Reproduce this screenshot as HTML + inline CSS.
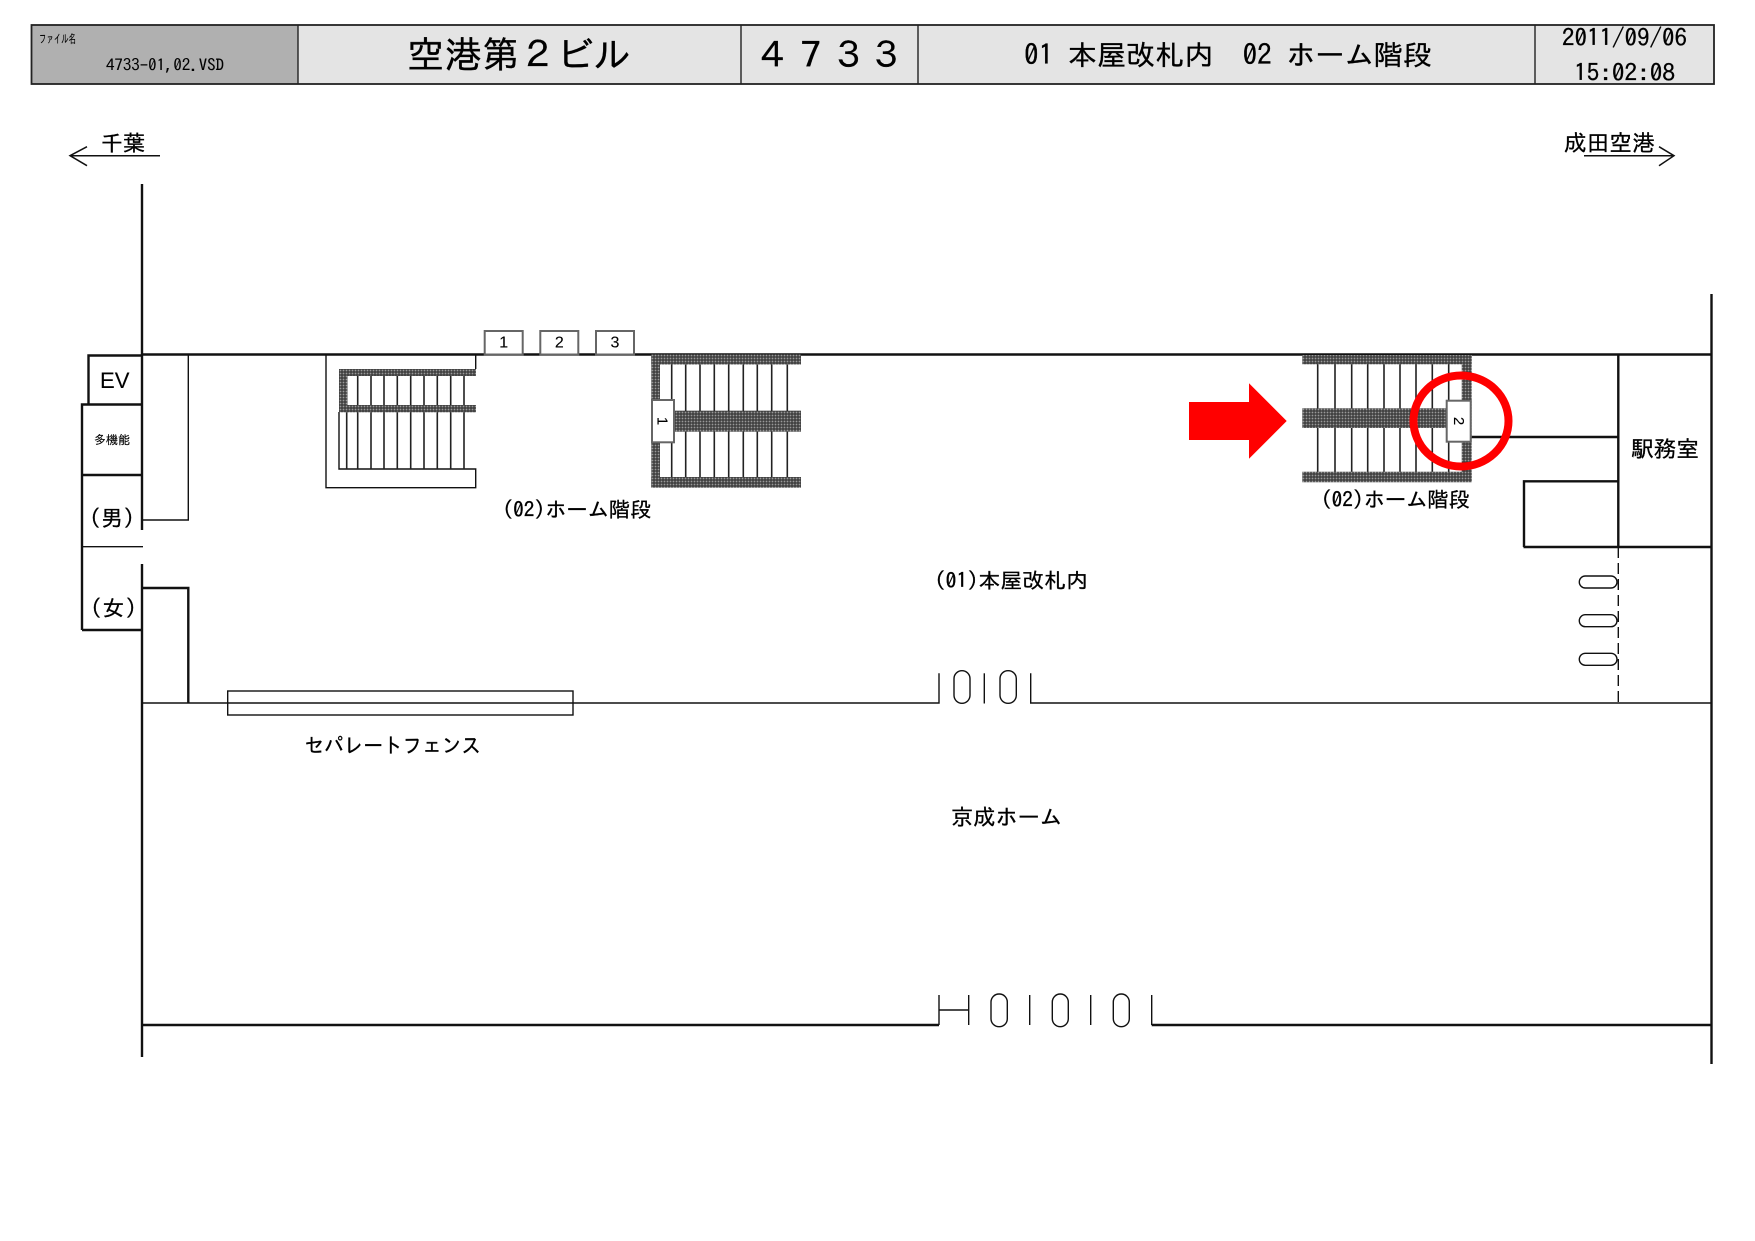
<!DOCTYPE html>
<html lang="ja"><head><meta charset="utf-8"><title>空港第2ビル 4733</title>
<style>
html,body{margin:0;padding:0;background:#fff;width:1755px;height:1241px;overflow:hidden}
svg{display:block}
text{font-family:"IPAGothic","Noto Sans CJK JP","Liberation Sans",sans-serif;fill:#000;stroke:#000;stroke-width:.3}
.l{stroke:#111;fill:none}
.h{fill:url(#hatch)}
.t{stroke:#222;stroke-width:1.6}
.b{fill:#fff;stroke:#666;stroke-width:2}
.n{font-family:"Liberation Sans",sans-serif;font-size:16px;text-anchor:middle;stroke-width:.1}
</style></head><body>
<svg width="1755" height="1241" viewBox="0 0 1755 1241" xmlns="http://www.w3.org/2000/svg">
<defs>
<pattern id="hatch" width="3" height="3" patternUnits="userSpaceOnUse">
<rect width="3" height="3" fill="#333"/><rect x="0.6" y="0.6" width="1.8" height="1.8" fill="#999"/>
</pattern>
</defs>
<rect width="1755" height="1241" fill="#fff"/>

<!-- header -->
<rect x="31.5" y="25" width="266.5" height="59" fill="#b0b0b0"/>
<rect x="298" y="25" width="1416" height="59" fill="#e4e4e4"/>
<rect x="31.5" y="25" width="1682.5" height="59" fill="none" stroke="#222" stroke-width="1.8"/>
<g stroke="#222" stroke-width="1.4">
<line x1="298" y1="25" x2="298" y2="84"/><line x1="741" y1="25" x2="741" y2="84"/><line x1="918" y1="25" x2="918" y2="84"/><line x1="1535" y1="25" x2="1535" y2="84"/>
</g>
<text x="39" y="43" font-size="12" textLength="37" lengthAdjust="spacingAndGlyphs" style="stroke-width:.1">ファイル名</text>
<text x="106" y="71" font-size="16" textLength="118" lengthAdjust="spacingAndGlyphs" style="stroke-width:.1">4733-01,02.VSD</text>
<text x="407" y="68" font-size="37" textLength="224" lengthAdjust="spacingAndGlyphs">空港第&#xFF12;ビル</text>
<text x="755.5" y="68" font-size="36" textLength="149" lengthAdjust="spacing">&#xFF14;&#xFF17;&#xFF13;&#xFF13;</text>
<text x="1024" y="65" font-size="28" textLength="408" lengthAdjust="spacingAndGlyphs" xml:space="preserve">01 本屋改札内  02 ホーム階段</text>
<text x="1562" y="46" font-size="24" textLength="125" lengthAdjust="spacingAndGlyphs">2011/09/06</text>
<text x="1574" y="81" font-size="24" textLength="101" lengthAdjust="spacingAndGlyphs">15:02:08</text>

<!-- direction arrows -->
<text x="101" y="151" font-size="22">千葉</text>
<path class="l" stroke-width="1.5" d="M160 155.7H70M87 146.7L70 155.7L87 165.7"/>
<text x="1564" y="151" font-size="22.7">成田空港</text>
<path class="l" stroke-width="1.5" d="M1584 155.7H1674M1659 146.7L1674 155.7L1659 165.7"/>

<!-- walls -->
<g class="l" stroke-width="2.4">
<path d="M142 184V530M142 564V1057"/>
<path d="M142 354.5H1712"/>
<path d="M1711.5 294V1064"/>
<path d="M88.5 404.5V355.5H142"/>
<path d="M82 630V404.5H142M82 475H142M82 630H142"/>
<path d="M142 588H188.3V703"/>
<path d="M1618.3 354.5V547M1524 547V481.3H1618.3M1523.5 547H1711.5"/>
<path d="M1471 437H1618.3"/>
</g>
<g class="l" stroke-width="1.4">
<path d="M82 546.7H143"/>
<path d="M188.3 354.5V520H142"/>
<path d="M142 703H939V673.3M1030.7 673.3V703H1711.5"/>
<line x1="984.3" y1="673.3" x2="984.3" y2="703.5"/>
<rect x="954" y="670.7" width="16" height="32.6" rx="8" ry="8"/>
<rect x="1000" y="670.7" width="16.3" height="32.6" rx="8" ry="8"/>
<rect x="227.7" y="691" width="345.3" height="24"/>
<rect x="1579.3" y="576" width="37.7" height="12" rx="6" ry="6"/>
<rect x="1579.3" y="614.7" width="37.7" height="12" rx="6" ry="6"/>
<rect x="1579.3" y="653.3" width="37.7" height="12" rx="6" ry="6"/>
<path d="M1618.3 547V702.5" stroke-dasharray="11 5"/>
<path d="M939 995V1025M939 1010H968.7M968.7 995V1025"/>
<line x1="1029.7" y1="995" x2="1029.7" y2="1025"/>
<line x1="1090.7" y1="995" x2="1090.7" y2="1025"/>
<rect x="991" y="994" width="16.3" height="32.7" rx="8" ry="8"/>
<rect x="1052.3" y="994" width="16" height="32.7" rx="8" ry="8"/>
<rect x="1113.3" y="994" width="16" height="32.7" rx="8" ry="8"/>
<path d="M1151.7 995V1025"/>
</g>
<path class="l" stroke-width="2.4" d="M142 1025H939M1151.7 1025H1711.5"/>

<!-- stair A -->
<path class="l" stroke-width="1.4" d="M475.7 354.5V369M326 354.5V487.7H475.7V469H339V412"/>
<g class="t">
<line x1="346.7" y1="376" x2="346.7" y2="469"/><line x1="357.7" y1="376" x2="357.7" y2="469"/><line x1="371" y1="376" x2="371" y2="469"/><line x1="384" y1="376" x2="384" y2="469"/><line x1="397.3" y1="376" x2="397.3" y2="469"/><line x1="410.7" y1="376" x2="410.7" y2="469"/><line x1="424" y1="376" x2="424" y2="469"/><line x1="437.3" y1="376" x2="437.3" y2="469"/><line x1="450.7" y1="376" x2="450.7" y2="469"/><line x1="464" y1="376" x2="464" y2="469"/>
</g>
<rect class="h" x="339" y="369" width="137" height="7"/>
<rect class="h" x="339" y="405" width="137" height="7.3"/>
<rect class="h" x="339" y="369" width="8.3" height="43"/>

<!-- numbered boxes -->
<rect class="b" x="484.7" y="331" width="38" height="23.5"/>
<rect class="b" x="540.3" y="331" width="38" height="23.5"/>
<rect class="b" x="596" y="331" width="38" height="23.5"/>
<text class="n" x="503.7" y="347.5">1</text>
<text class="n" x="559.3" y="347.5">2</text>
<text class="n" x="615" y="347.5">3</text>

<!-- stair B -->
<g class="t">
<line x1="671.7" y1="364" x2="671.7" y2="477"/><line x1="685.7" y1="364" x2="685.7" y2="477"/><line x1="700" y1="364" x2="700" y2="477"/><line x1="714.3" y1="364" x2="714.3" y2="477"/><line x1="728.7" y1="364" x2="728.7" y2="477"/><line x1="743.3" y1="364" x2="743.3" y2="477"/><line x1="757.3" y1="364" x2="757.3" y2="477"/><line x1="771.7" y1="364" x2="771.7" y2="477"/><line x1="787.3" y1="364" x2="787.3" y2="477"/>
</g>
<rect class="h" x="651.3" y="354.5" width="149.7" height="10"/>
<rect class="h" x="651.3" y="477" width="149.7" height="10.7"/>
<rect class="h" x="651.3" y="354.5" width="8.7" height="133"/>
<rect class="h" x="672" y="410.7" width="129" height="21"/>
<rect class="b" x="652" y="400" width="22" height="42.3"/>
<text class="n" transform="translate(663 421) rotate(90)" y="5.5" style="font-size:15px">1</text>

<!-- stair C -->
<g class="t">
<line x1="1317.7" y1="364" x2="1317.7" y2="472"/><line x1="1335" y1="364" x2="1335" y2="472"/><line x1="1351.7" y1="364" x2="1351.7" y2="472"/><line x1="1367.7" y1="364" x2="1367.7" y2="472"/><line x1="1384" y1="364" x2="1384" y2="472"/><line x1="1400" y1="364" x2="1400" y2="472"/><line x1="1416" y1="364" x2="1416" y2="472"/><line x1="1432.3" y1="364" x2="1432.3" y2="472"/><line x1="1448.7" y1="364" x2="1448.7" y2="472"/>
</g>
<rect class="h" x="1302.3" y="355" width="169.4" height="9.3"/>
<rect class="h" x="1302.3" y="471.7" width="169.4" height="10.6"/>
<rect class="h" x="1302.3" y="408.3" width="146" height="19.7"/>
<rect class="h" x="1461.7" y="355" width="10" height="127"/>
<rect class="b" x="1446.7" y="400.7" width="24" height="41" stroke-width="2.2"/>
<text class="n" transform="translate(1459.7 421) rotate(90)" y="5.5" style="font-size:15px">2</text>

<!-- red highlight -->
<path fill="#ff0000" d="M1189 402H1249V383.3L1286.7 421L1249 458.7V440H1189Z"/>
<ellipse cx="1461" cy="421" rx="47.5" ry="45.5" fill="none" stroke="#ff0000" stroke-width="8"/>

<!-- labels -->
<text x="100" y="388" style="font-family:'Liberation Sans',sans-serif;stroke-width:.1" font-size="22" textLength="29.5" lengthAdjust="spacingAndGlyphs">EV</text>
<text x="94" y="444" font-size="12" style="stroke-width:.15">多機能</text>
<text x="89.5" y="526" font-size="22" textLength="45" lengthAdjust="spacing">(男)</text>
<text x="90.5" y="616" font-size="22" textLength="46" lengthAdjust="spacing">(女)</text>
<text x="502.5" y="517" font-size="21" textLength="149" lengthAdjust="spacingAndGlyphs">(02)ホーム階段</text>
<text x="1321" y="507" font-size="21" textLength="149" lengthAdjust="spacingAndGlyphs">(02)ホーム階段</text>
<text x="934.5" y="588" font-size="21" textLength="153.5" lengthAdjust="spacingAndGlyphs">(01)本屋改札内</text>
<text x="304.5" y="753" font-size="21" textLength="176.5" lengthAdjust="spacingAndGlyphs">セパレートフェンス</text>
<text x="951" y="825" font-size="22" textLength="111" lengthAdjust="spacingAndGlyphs">京成ホーム</text>
<text x="1631" y="457" font-size="22.5" textLength="68" lengthAdjust="spacingAndGlyphs">駅務室</text>
</svg>
</body></html>
